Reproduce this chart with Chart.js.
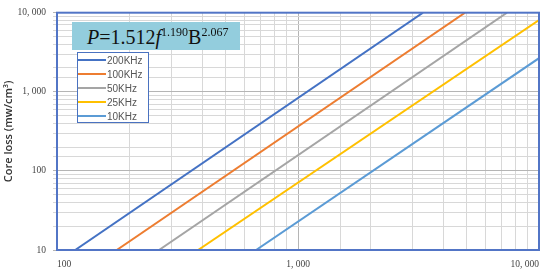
<!DOCTYPE html>
<html lang="en">
<head>
<meta charset="UTF-8">
<title>Core loss chart</title>
<script src="https://cdn.jsdelivr.net/npm/chart.js"></script>
<style>
    body { margin: 0; background: #fff; }
    .wrap { position: relative; width: 550px; height: 273px; }
    .formula {
        position: absolute; left: 72px; top: 22px; width: 168px; height: 28px;
        background: #93cddd; box-sizing: border-box; padding-left: 15px;
        font-family: "Liberation Serif", serif; font-size: 20px; line-height: 30px; color: #111;
        white-space: nowrap;
    }
    .formula sup { font-size: 12px; position: relative; top: -8px; vertical-align: baseline; }
    .legend {
        position: absolute; left: 77px; top: 52px; width: 72px; height: 71px;
        border: 1px solid #4a72c0; background: #fff; box-sizing: border-box;
    }
    .legend .item { height: 14px; display: flex; align-items: center; font: 10px "Liberation Sans", sans-serif; color: #555; }
    .legend .sw { width: 28px; height: 2px; margin-right: 1px; }
</style>
</head>
<body>
<div class="wrap">
    <canvas id="chart"></canvas>
    <div class="formula"><i>P</i>=1.512<i>f</i><sup>1.190</sup>B<sup>2.067</sup></div>
    <div class="legend" id="legend"></div>
</div>
<script>
    // lines: start / end of each straight line
    const seriesNames = ['200KHz', '100KHz', '50KHz', '25KHz', '10KHz'];
    const seriesColors = ['#4472c4', '#ed7d31', '#a5a5a5', '#ffc000', '#5b9bd5'];
    const xStart = [119, 177, 265, 385, 670];
    const xEnd = [3300, 4930, 7360, 10000, 10000];
    const yStart = [10, 10, 10, 10, 10];
    const yEnd = [10000, 10000, 10000, 8060, 2660];
    const xTicks = [100, 1000, 10000];
    const yTicks = [10, 100, 1000, 10000];

    const fmt = v => Math.round(v).toLocaleString('en-US').replace(/,/g, ', ');
    const isMajor = (list, v) => list.some(t => Math.abs(t - v) < 1e-6 * t);

    const datasets = seriesNames.map((name, i) => ({
        label: name,
        data: [{ x: xStart[i], y: yStart[i] }, { x: xEnd[i], y: yEnd[i] }],
        borderColor: seriesColors[i],
        borderWidth: 2,
        pointRadius: 0,
        fill: false,
        tension: 0
    }));

    const frame = {
        id: 'frame',
        afterDraw(chart) {
            const { ctx, chartArea: a } = chart;
            ctx.save();
            ctx.strokeStyle = '#5275c6';
            ctx.lineWidth = 2;
            ctx.strokeRect(a.left, a.top, a.right - a.left, a.bottom - a.top);
            ctx.restore();
        }
    };

    const tickFont = { family: 'Liberation Serif', size: 9.5 };

    new Chart(document.getElementById('chart'), {
        type: 'line',
        data: { datasets },
        options: {
            responsive: true,
            maintainAspectRatio: false,
            animation: false,
            layout: { padding: { top: 5, right: 11, left: 0, bottom: 0 } },
            plugins: { legend: { display: false }, tooltip: { enabled: false } },
            scales: {
                x: {
                    type: 'logarithmic',
                    min: 100,
                    max: 10000,
                    border: { display: false },
                    grid: {
                        drawTicks: false,
                        color: c => isMajor(xTicks, c.tick.value) ? '#b5b5b5' : '#d8d8d8'
                    },
                    ticks: {
                        autoSkip: false,
                        maxRotation: 0,
                        align: 'inner',
                        padding: 9,
                        color: '#444',
                        font: tickFont,
                        callback: v => isMajor(xTicks, v) ? fmt(v) : ''
                    },
                    afterFit: s => { s.height = 23; }
                },
                y: {
                    type: 'logarithmic',
                    min: 10,
                    max: 10000,
                    border: { display: false },
                    grid: {
                        tickLength: 4,
                        color: c => isMajor(yTicks, c.tick.value) ? '#b5b5b5' : '#d8d8d8'
                    },
                    ticks: {
                        autoSkip: false,
                        padding: 7,
                        color: '#444',
                        font: tickFont,
                        callback: v => isMajor(yTicks, v) ? fmt(v) : ''
                    },
                    title: {
                        display: true,
                        text: 'Core loss (mw/cm³)',
                        color: '#333',
                        font: { family: 'Open Sans', size: 11, weight: '600' },
                        padding: { top: 2, bottom: 0 }
                    },
                    afterFit: s => { s.width = 57; }
                }
            }
        },
        plugins: [frame]
    });

    // legend box built from the series arrays
    const legend = document.getElementById('legend');
    seriesNames.forEach((name, i) => {
        const row = document.createElement('div');
        row.className = 'item';
        const sw = document.createElement('span');
        sw.className = 'sw';
        sw.style.background = seriesColors[i];
        row.appendChild(sw);
        row.appendChild(document.createTextNode(name));
        legend.appendChild(row);
    });
</script>
</body>
</html>
